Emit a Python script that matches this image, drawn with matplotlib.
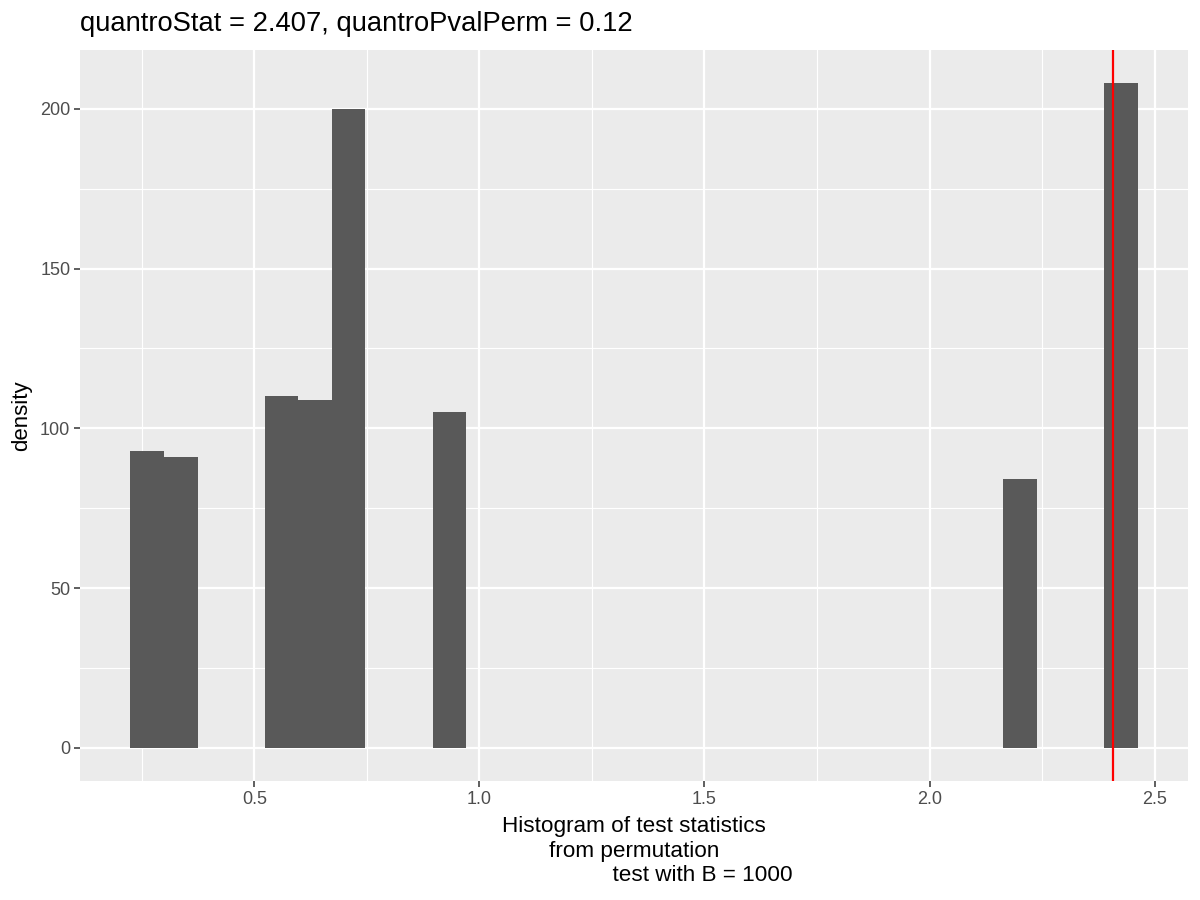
import numpy as np
import matplotlib
matplotlib.use("Agg")
import matplotlib.pyplot as plt
from matplotlib.ticker import MultipleLocator

plt.rcParams['font.family'] = ['Liberation Sans', 'DejaVu Sans']

# histogram of permutation statistics (30 bins, ggplot style)
bin_start = 0.2244
bin_width = 0.0746
n_bins = 30
bin_index = [0, 1, 4, 5, 6, 9, 26, 29]
bin_count = [93, 91, 110, 109, 200, 105, 84, 208]
quantro_stat = 2.407
pval_perm = 0.12
B = 1000

x_ticks = [0.5, 1.0, 1.5, 2.0, 2.5]
y_ticks = [0, 50, 100, 150, 200]

edges = bin_start + bin_width * np.arange(n_bins + 1)
heights = np.zeros(n_bins)
heights[bin_index] = bin_count

fig = plt.figure(figsize=(12, 9), dpi=100)
ax = fig.add_axes([80 / 1200, 1 - 781 / 900, 1108 / 1200, 731 / 900])
ax.set_facecolor("#EBEBEB")
for s in ax.spines.values():
    s.set_visible(False)

ax.bar(edges[:-1], heights, width=bin_width, align="edge", color="#595959",
       linewidth=0, zorder=3)
ax.axvline(quantro_stat, color="red", linewidth=1.6, zorder=4)

lo, hi = edges[0], edges[-1]
pad = (hi - lo) * 0.05
ax.set_xlim(lo - pad, hi + pad)
ymax = max(bin_count)
ax.set_ylim(-0.05 * ymax, ymax * 1.05)

ax.set_xticks(x_ticks)
ax.set_yticks(y_ticks)
ax.xaxis.set_minor_locator(MultipleLocator(0.25))
ax.yaxis.set_minor_locator(MultipleLocator(25))
ax.grid(which="major", color="white", linewidth=1.6, zorder=0)
ax.grid(which="minor", color="white", linewidth=0.8, zorder=0)
ax.set_axisbelow(True)
ax.tick_params(which="major", length=4, width=1.1, color="#333333",
               labelsize=13, labelcolor="#4D4D4D", pad=3)
ax.tick_params(which="minor", length=0)

ax.set_title(f"quantroStat = {quantro_stat}, quantroPvalPerm = {pval_perm}",
             loc="left", fontsize=19.7, pad=14)
ax.set_ylabel("density", fontsize=16, labelpad=6)
ax.set_xlabel("Histogram of test statistics\nfrom permutation\n"
              + " " * 22 + f"test with B = {B}",
              fontsize=16.2, labelpad=6, linespacing=1.22)

fig.savefig("out.png", dpi=100)
